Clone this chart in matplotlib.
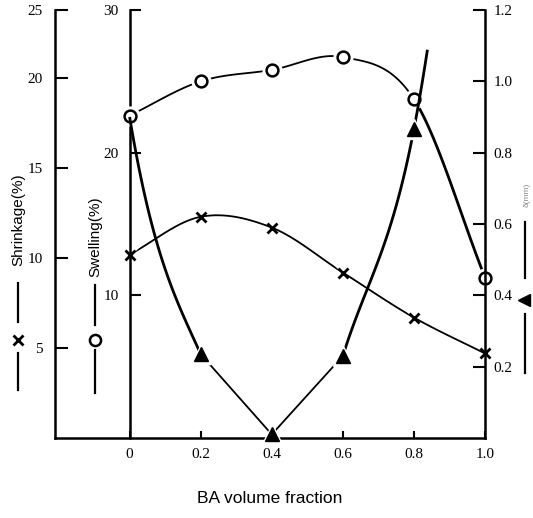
import numpy as np
import matplotlib
matplotlib.use("Agg")
import matplotlib.pyplot as plt
from matplotlib.lines import Line2D

# ---- data ----
fraction = [0.0, 0.2, 0.4, 0.6, 0.8, 1.0]
swelling = [22.6, 25.0, 25.8, 26.7, 23.75, 11.25]        # % (circles)
shrinkage = [10.2, 12.3, 11.7, 9.2, 6.7, 4.7]            # % (crosses)
tri_values = [0.90, 0.235, 0.01, 0.23, 0.866, 2.3]      # right axis (triangles), last point off-scale

x_ticks = [0.0, 0.2, 0.4, 0.6, 0.8, 1.0]
x_tick_labels = ["0", "0.2", "0.4", "0.6", "0.8", "1.0"]
shrink_ticks = [5, 10, 15, 20, 23.8]
shrink_tick_labels = ["5", "10", "15", "20", "25"]
swell_ticks = [10, 20, 30]
swell_tick_labels = ["10", "20", "30"]
right_ticks = [0.2, 0.4, 0.6, 0.8, 1.0, 1.2]
right_tick_labels = ["0.2", "0.4", "0.6", "0.8", "1.0", "1.2"]

SERIF = "Liberation Serif"
SANS = "Liberation Sans"

W, H = 533, 518
fig = plt.figure(figsize=(W / 100, H / 100), dpi=100)
fig.patch.set_facecolor("white")

L, R, T, B = 55, 485, 10, 438
rect = [L / W, (H - B) / H, (R - L) / W, (B - T) / H]


def hermite_pieces(x, y, tension=None, n=80):
    """Cubic Hermite curve; tangents Catmull-Rom style, optional per-point multipliers."""
    x = np.asarray(x, float)
    y = np.asarray(y, float)
    py = np.concatenate([[2 * y[0] - y[1]], y, [2 * y[-1] - y[-2]]])
    m = (py[2:] - py[:-2]) / 2.0
    if tension is not None:
        m = m * np.asarray(tension, float)
    segs = []
    t = np.linspace(0, 1, n)
    h00 = 2 * t**3 - 3 * t**2 + 1
    h10 = t**3 - 2 * t**2 + t
    h01 = -2 * t**3 + 3 * t**2
    h11 = t**3 - t**2
    for i in range(len(x) - 1):
        sx = x[i] + (x[i + 1] - x[i]) * t
        sy = h00 * y[i] + h10 * m[i] + h01 * y[i + 1] + h11 * m[i + 1]
        segs.append((sx, sy))
    return segs


# shrinkage axis (outer left)
ax = fig.add_axes(rect)
ax.set_xlim(-0.21, 1.0)
ax.set_ylim(0, 23.8)
for s in ["top", "right"]:
    ax.spines[s].set_visible(False)
for s in ["left", "bottom"]:
    ax.spines[s].set_linewidth(1.8)
ax.set_yticks(shrink_ticks)
ax.set_yticklabels(shrink_tick_labels, fontfamily=SERIF, fontsize=11)
ax.set_xticks(x_ticks)
ax.set_xticklabels(x_tick_labels, fontfamily=SERIF, fontsize=11)
ax.tick_params(axis="y", direction="in", length=9, width=1.5, pad=9)
ax.tick_params(axis="x", direction="in", length=5, width=1.5, pad=7)
ax.set_xlabel("BA volume fraction", fontfamily=SANS, fontsize=12.5, labelpad=22)

# swelling axis (at x = 0)
ax_sw = fig.add_axes(rect, sharex=ax)
ax_sw.patch.set_visible(False)
for s in ["top", "right", "bottom"]:
    ax_sw.spines[s].set_visible(False)
ax_sw.spines["left"].set_position(("data", 0))
ax_sw.spines["left"].set_linewidth(1.8)
ax_sw.set_ylim(0, 30)
ax_sw.set_yticks(swell_ticks)
ax_sw.set_yticklabels(swell_tick_labels, fontfamily=SERIF, fontsize=11)
ax_sw.tick_params(axis="y", direction="in", length=8, width=1.5, pad=8)
ax_sw.tick_params(axis="x", bottom=False, labelbottom=False)

# right axis (triangles)
ax_tr = fig.add_axes(rect, sharex=ax)
ax_tr.patch.set_visible(False)
for s in ["top", "left", "bottom"]:
    ax_tr.spines[s].set_visible(False)
ax_tr.spines["right"].set_linewidth(1.8)
ax_tr.yaxis.tick_right()
ax_tr.set_ylim(0, 1.2)
ax_tr.set_yticks(right_ticks)
ax_tr.set_yticklabels(right_tick_labels, fontfamily=SERIF, fontsize=11)
ax_tr.tick_params(axis="y", direction="in", length=9, width=1.5, pad=6)
ax_tr.tick_params(axis="x", bottom=False, labelbottom=False)


def draw_curve(a, xs, ys, widths, tension=None, xmax=None):
    for (sx, sy), lw in zip(hermite_pieces(xs, ys, tension), widths):
        if lw <= 0:
            continue
        if xmax is not None:
            keep = sx <= xmax
            sx, sy = sx[keep], sy[keep]
        a.plot(sx, sy, color="black", lw=lw, solid_capstyle="butt", zorder=2, clip_on=False)


def draw_marks(a, xs, ys, marker, ms, mew, face):
    a.plot(xs, ys, ls="none", marker=marker, ms=ms + 5, color="white", mec="white",
           zorder=3, clip_on=False)
    a.plot(xs, ys, ls="none", marker=marker, ms=ms, mfc=face, mec="black", mew=mew,
           color="black", zorder=4, clip_on=False)


# shrinkage (crosses)
draw_curve(ax, fraction, shrinkage, [1.3] * 5)
draw_marks(ax, fraction, shrinkage, "x", 7.5, 2.0, "black")

# swelling (circles)
draw_curve(ax_sw, fraction, swelling, [1.3, 1.3, 1.3, 1.3, 2.0])
draw_marks(ax_sw, fraction, swelling, "o", 8.5, 1.8, "white")

# triangles: steep first arc, straight V around the minimum, rising arc beyond
draw_curve(ax_tr, fraction[:3], tri_values[:3], [2.0, 0], tension=[1.8, 1.0, 1.0])
ax_tr.plot(fraction[1:4], tri_values[1:4], color="black", lw=1.3, zorder=2, clip_on=False)
draw_curve(ax_tr, fraction[3:], tri_values[3:], [2.0, 2.0], xmax=0.84)
draw_marks(ax_tr, fraction[1:5], tri_values[1:5], "^", 9.5, 1.0, "black")


# ---- axis legends drawn beside the axes ----
def fx(px):
    return px / W


def fy(py):
    return 1 - py / H


fig.text(fx(18), fy(220), "Shrinkage(%)", rotation=90, ha="center", va="center",
         fontfamily=SANS, fontsize=11)
fig.add_artist(Line2D([fx(18), fx(18)], [fy(283), fy(322)], color="black", lw=1.6))
fig.add_artist(Line2D([fx(18)], [fy(340)], marker="x", ms=7, mew=2, color="black"))
fig.add_artist(Line2D([fx(18), fx(18)], [fy(353), fy(390)], color="black", lw=1.6))

fig.text(fx(95), fy(237), "Swelling(%)", rotation=90, ha="center", va="center",
         fontfamily=SANS, fontsize=11)
fig.add_artist(Line2D([fx(95), fx(95)], [fy(285), fy(325)], color="black", lw=1.6))
fig.add_artist(Line2D([fx(95)], [fy(340)], marker="o", ms=8, mew=1.8, mfc="white", color="black"))
fig.add_artist(Line2D([fx(95), fx(95)], [fy(350), fy(393)], color="black", lw=1.6))

fig.text(fx(527), fy(195), "δ(mm)", rotation=90, ha="center", va="center",
         fontfamily=SANS, fontsize=6, color="#888888")
fig.add_artist(Line2D([fx(525), fx(525)], [fy(222), fy(278)], color="black", lw=1.6))
fig.add_artist(Line2D([fx(524)], [fy(300)], marker="<", ms=9, color="black"))
fig.add_artist(Line2D([fx(525), fx(525)], [fy(314), fy(373)], color="black", lw=1.6))

fig.savefig("out.png", dpi=100, facecolor="white")
